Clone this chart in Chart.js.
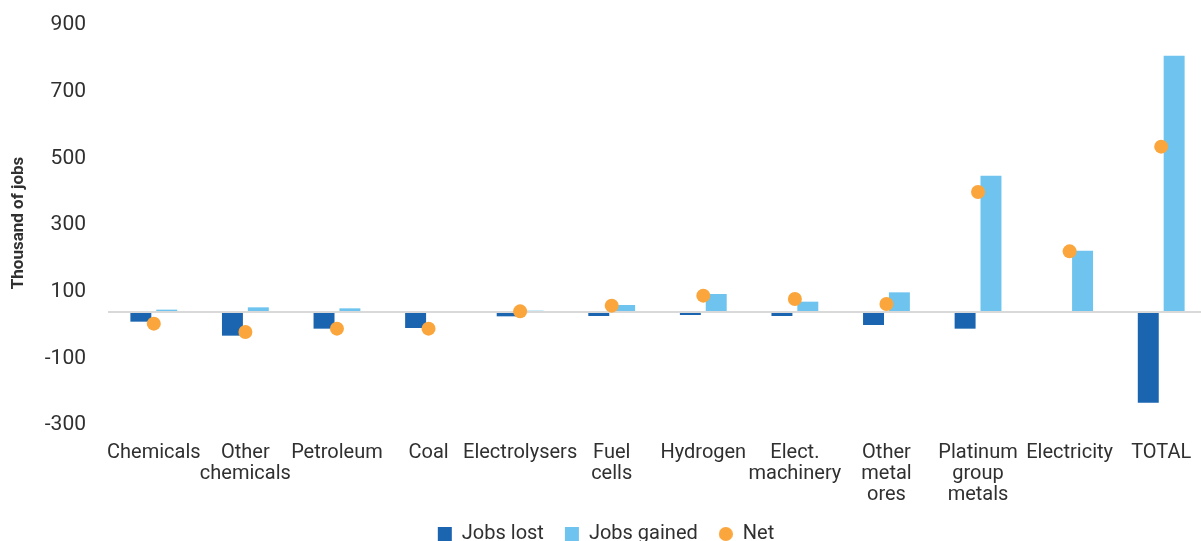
<!DOCTYPE html>
<html>
<head>
<meta charset="utf-8">
<title>Jobs lost and gained by sector</title>
<script src="https://cdn.jsdelivr.net/npm/chart.js@4.4.1/dist/chart.umd.min.js"></script>
<style>
  html, body { margin: 0; padding: 0; background: #ffffff; overflow: hidden; }
  #wrap { position: relative; width: 1214px; height: 541px; }
</style>
</head>
<body>
<div id="wrap"><canvas id="chart"></canvas></div>
<script>
// Sectors (multi-line labels)
const categories = [
  ['Chemicals'], ['Other', 'chemicals'], ['Petroleum'], ['Coal'], ['Electrolysers'],
  ['Fuel', 'cells'], ['Hydrogen'], ['Elect.', 'machinery'], ['Other', 'metal', 'ores'],
  ['Platinum', 'group', 'metals'], ['Electricity'], ['TOTAL']
];

// Thousand of jobs
const jobsLost   = [-29, -71, -50, -48, -13, -12, -9, -12, -39, -50, 0, -272];
const jobsGained = [7, 14, 11, 0, 4, 21, 54, 31, 59, 409, 184, 769];
const netJobs    = [-35, -60, -50, -50, 2, 19, 49, 39, 24, 360, 182, 496];

// Value axis ticks (0 carries only the baseline)
const yTickValues = [-300, -100, 0, 100, 300, 500, 700, 900];

const FONT = 'Roboto, "Liberation Sans", Arial, sans-serif';
const TEXT = '#303030';
const DARK_BLUE = '#1b64b0';
const LIGHT_BLUE = '#6ec4ee';
const ORANGE = '#faa63c';

// Small round legend marker for the Net series
const netMarker = document.createElement('canvas');
netMarker.width = 14; netMarker.height = 14;
(function () {
  const c = netMarker.getContext('2d');
  c.fillStyle = ORANGE;
  c.beginPath();
  c.arc(7, 7, 7, 0, Math.PI * 2);
  c.fill();
})();

new Chart(document.getElementById('chart'), {
  type: 'bar',
  data: {
    labels: categories,
    datasets: [
      {
        label: 'Jobs lost',
        data: jobsLost,
        backgroundColor: DARK_BLUE,
        borderWidth: 0,
        categoryPercentage: 0.565,
        barPercentage: 0.81,
        order: 2
      },
      {
        label: 'Jobs gained',
        data: jobsGained,
        backgroundColor: LIGHT_BLUE,
        borderWidth: 0,
        categoryPercentage: 0.565,
        barPercentage: 0.81,
        order: 2
      },
      {
        type: 'line',
        label: 'Net',
        data: netJobs,
        showLine: false,
        pointRadius: 7,
        pointHoverRadius: 7,
        pointBorderWidth: 0,
        pointBackgroundColor: ORANGE,
        backgroundColor: ORANGE,
        borderColor: ORANGE,
        order: 1
      }
    ]
  },
  options: {
    responsive: true,
    maintainAspectRatio: false,
    animation: false,
    layout: { padding: { top: 12, right: 2, left: 0, bottom: 0 } },
    scales: {
      x: {
        grid: { display: false, drawTicks: false },
        border: { display: false },
        ticks: {
          autoSkip: false,
          maxRotation: 0,
          minRotation: 0,
          padding: 9,
          color: TEXT,
          font: { family: FONT, size: 20, lineHeight: 1.03 }
        },
        afterFit: (scale) => { scale.height = 69; }
      },
      y: {
        min: -366,
        max: 900,
        afterBuildTicks: (scale) => {
          scale.ticks = yTickValues.map(v => ({ value: v }));
        },
        afterFit: (scale) => {
          scale.width = 108;
          scale.paddingTop = 0;
          scale.paddingBottom = 0;
        },
        border: { display: false },
        grid: {
          drawTicks: false,
          lineWidth: 2,
          color: (ctx) => (ctx.tick && ctx.tick.value === 0 ? '#d9d9d9' : 'rgba(0,0,0,0)')
        },
        ticks: {
          padding: 22,
          labelOffset: 13,
          color: TEXT,
          font: { family: FONT, size: 21 },
          callback: (value) => (value === 0 ? '' : String(value))
        },
        title: {
          display: true,
          text: 'Thousand of jobs',
          color: TEXT,
          font: { family: FONT, size: 17, weight: 'bold', lineHeight: 1.2 },
          padding: { top: 9, bottom: 0 }
        }
      }
    },
    plugins: {
      tooltip: { enabled: false },
      legend: {
        position: 'bottom',
        maxHeight: 38,
        labels: {
          usePointStyle: true,
          boxWidth: 14,
          boxHeight: 14,
          padding: 21,
          color: TEXT,
          font: { family: FONT, size: 20 },
          sort: (a, b) => a.datasetIndex - b.datasetIndex,
          generateLabels: (chart) => {
            const items = Chart.defaults.plugins.legend.labels.generateLabels(chart);
            items.forEach((item) => {
              item.pointStyle = item.text === 'Net' ? netMarker : 'rect';
              item.lineWidth = 0;
            });
            return items;
          }
        }
      }
    }
  }
});
</script>
</body>
</html>
